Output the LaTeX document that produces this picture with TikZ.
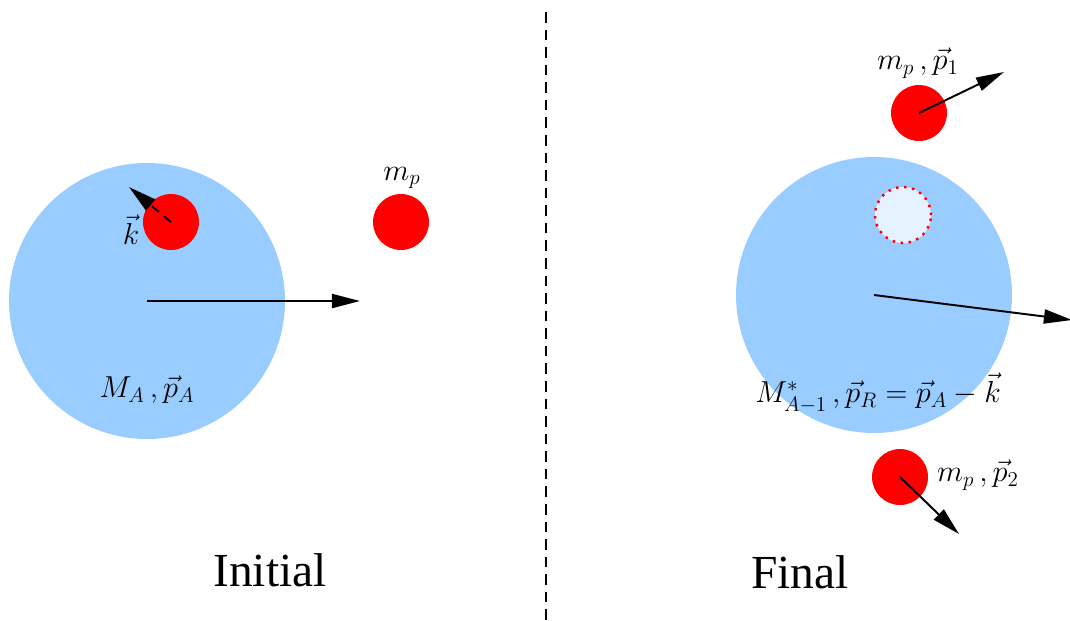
\documentclass[tikz,border=0pt]{standalone}
\usepackage{amsmath}
\usepackage[no-math]{fontspec}
\setmainfont{Liberation Serif}
\usepackage{xcolor}
\usetikzlibrary{arrows.meta, positioning, calc}

\definecolor{nucleus}{HTML}{99CCFF}
\definecolor{hole}{HTML}{E6F2FF}

\begin{document}
\begin{tikzpicture}[x=0.02cm, y=-0.02cm]
    \tikzstyle{nucl} = [circle, fill=nucleus, minimum size=5.52cm, inner sep=0pt]
    \tikzstyle{proton} = [circle, fill=red, minimum size=1.12cm, inner sep=0pt]
    \tikzstyle{vec} = [-{Triangle[length=16pt, width=8pt]}, line width=1.1pt]
    \tikzstyle{lbl} = [font=\fontsize{17}{20}\selectfont, inner sep=1pt]
    \tikzstyle{title} = [font=\fontsize{27}{32}\selectfont]

    \useasboundingbox (0,0) rectangle (1070,620);

    % initial state
    \node [nucl] (nA) at (147,301) {};
    \node [proton] (pin) at (171,222) {};
    \node [proton] (pout) at (401,222) {};
    \coordinate (ktip) at (129,187);
    \coordinate (PAtip) at (360,301);

    \draw[vec] (nA.center) -- (PAtip);
    \draw[vec, dashed, dash pattern=on 5pt off 4pt] (pin.center) -- (ktip);

    \node [lbl] (klbl) at (131,230) {$\vec{k}$};
    \node [lbl] (mplbl) at (402,178) {$m_p$};
    \node [lbl] (malbl) at (147,390) {$M_A\,,\vec{p}_A$};
    \node [title] (init) at (270,570) {Initial};

    % separator
    \coordinate (sepT) at (546,12);
    \coordinate (sepB) at (546,620);
    \draw[dashed, line width=0.9pt, dash pattern=on 6pt off 4pt] (sepT) -- (sepB);

    % final state
    \node [nucl] (nR) at (874,295) {};
    \node [circle, fill=hole, draw=red, line width=1.4pt,
           dash pattern=on 1.4pt off 3.2pt, minimum size=1.12cm,
           inner sep=0pt] (hole) at (903,215) {};
    \node [proton] (p1) at (919,113) {};
    \node [proton] (p2) at (900,477) {};
    \coordinate (p1tip) at (1004,72);
    \coordinate (p2tip) at (959,534);
    \coordinate (PRtip) at (1072,320);

    \draw[vec] (nR.center) -- (PRtip);
    \draw[vec] (p1.center) -- (p1tip);
    \draw[vec] (p2.center) -- (p2tip);

    \node [lbl] (p1lbl) at (918,63) {$m_p\,,\vec{p}_1$};
    \node [lbl] (p2lbl) at (978,475) {$m_p\,,\vec{p}_2$};
    \node [lbl] (mrlbl) at (878,393) {$M^*_{A-1}\,,\vec{p}_R=\vec{p}_A-\vec{k}$};
    \node [title] (fin) at (800,572) {Final};
\end{tikzpicture}
\end{document}
